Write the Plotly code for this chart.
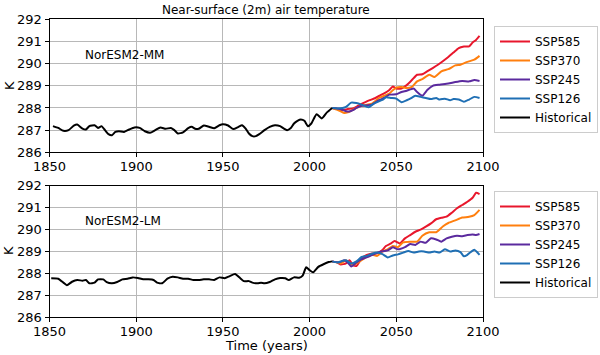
import plotly.graph_objects as go

# ---------------- data: NorESM2-MM (top) ----------------
hist_years_mm = [1852, 1855, 1858, 1861, 1864, 1866, 1869, 1871, 1873, 1876, 1878, 1880, 1882,
                 1884, 1886, 1888, 1890, 1893, 1896, 1899, 1902, 1905, 1908, 1911, 1914, 1917,
                 1920, 1922, 1924, 1927, 1930, 1932, 1934, 1936, 1939, 1942, 1945, 1948, 1950,
                 1953, 1956, 1959, 1961, 1963, 1965, 1967, 1969, 1971, 1974, 1977, 1980, 1983,
                 1985, 1987, 1989, 1991, 1993, 1995, 1997, 1999, 2001, 2004, 2007, 2010, 2013]
hist_mm = [287.18, 287.1, 286.97, 287.0, 287.2, 287.25, 287.07, 287.03, 287.18, 287.22, 287.1,
           287.18, 287.0, 286.82, 286.77, 286.92, 286.95, 286.92, 287.03, 287.12, 287.1, 286.95,
           286.88, 287.0, 287.12, 287.06, 287.1, 287.0, 286.85, 286.9, 287.09, 287.15, 287.06,
           287.06, 287.21, 287.15, 287.08, 287.22, 287.27, 287.21, 287.05, 287.15, 287.22,
           287.08, 286.85, 286.73, 286.73, 286.82, 287.0, 287.15, 287.22, 287.18, 287.08, 287.0,
           287.08, 287.3, 287.42, 287.48, 287.42, 287.18, 287.3, 287.72, 287.53, 287.8, 288.0]

ssp585_years_mm = [2013, 2016, 2019, 2022, 2025, 2028, 2030, 2033, 2035, 2038, 2040, 2043, 2046,
                   2048, 2050, 2053, 2056, 2059, 2062, 2065, 2068, 2071, 2074, 2077, 2080, 2083,
                   2086, 2089, 2092, 2094, 2096, 2098]
ssp585_mm = [288.0, 287.95, 287.9, 287.95, 287.98, 288.1, 288.18, 288.3, 288.36, 288.45, 288.54,
             288.66, 288.81, 288.97, 288.88, 288.88, 289.03, 289.26, 289.5, 289.52, 289.66,
             289.8, 289.95, 290.12, 290.3, 290.5, 290.7, 290.77, 290.78, 290.95, 291.07, 291.25]

ssp370_years_mm = [2013, 2016, 2018, 2020, 2022, 2024, 2027, 2030, 2033, 2036, 2040, 2043, 2046,
                   2048, 2050, 2053, 2056, 2059, 2062, 2065, 2069, 2072, 2076, 2080, 2084, 2087,
                   2091, 2095, 2098]
ssp370_mm = [288.0, 287.92, 287.85, 287.77, 287.8, 287.88, 288.0, 288.1, 288.15, 288.2, 288.45,
             288.55, 288.65, 288.8, 288.92, 288.95, 288.9, 288.95, 289.2, 289.3, 289.5, 289.4,
             289.65, 289.75, 289.92, 289.95, 290.08, 290.18, 290.35]

ssp245_years_mm = [2013, 2016, 2019, 2021, 2023, 2025, 2027, 2030, 2033, 2036, 2040, 2043, 2046,
                   2050, 2053, 2056, 2060, 2062, 2065, 2068, 2071, 2075, 2080, 2084, 2088, 2092,
                   2095, 2098]
ssp245_mm = [288.0, 287.98, 287.92, 287.85, 287.84, 287.9, 288.0, 288.1, 288.12, 288.15, 288.35,
             288.45, 288.6, 288.62, 288.72, 288.78, 288.88, 288.72, 288.55, 288.82, 289.0, 289.05,
             289.1, 289.17, 289.22, 289.2, 289.26, 289.22]

ssp126_years_mm = [2013, 2016, 2019, 2021, 2024, 2027, 2030, 2034, 2037, 2040, 2042, 2044, 2047,
                   2050, 2053, 2056, 2058, 2061, 2064, 2067, 2070, 2073, 2075, 2078, 2081, 2083,
                   2086, 2089, 2092, 2095, 2098]
ssp126_mm = [288.0, 287.98, 288.0, 288.05, 288.24, 288.22, 288.15, 288.03, 288.2, 288.3, 288.36,
             288.48, 288.45, 288.42, 288.26, 288.35, 288.42, 288.55, 288.5, 288.45, 288.4,
             288.45, 288.38, 288.42, 288.35, 288.4, 288.38, 288.28, 288.38, 288.5, 288.45]

# ---------------- data: NorESM2-LM (bottom) ----------------
hist_years_lm = [1851, 1855, 1858, 1860, 1863, 1866, 1869, 1871, 1873, 1876, 1878, 1881, 1883,
                 1886, 1889, 1892, 1895, 1898, 1901, 1904, 1907, 1910, 1912, 1915, 1918, 1921,
                 1924, 1927, 1930, 1933, 1936, 1939, 1942, 1945, 1948, 1951, 1954, 1957, 1960,
                 1962, 1965, 1967, 1970, 1972, 1974, 1977, 1980, 1983, 1986, 1988, 1991, 1994,
                 1996, 1998, 2000, 2002, 2005, 2008, 2011, 2013]
hist_lm = [287.78, 287.76, 287.58, 287.46, 287.62, 287.7, 287.67, 287.7, 287.55, 287.58, 287.73,
           287.73, 287.6, 287.55, 287.61, 287.73, 287.76, 287.82, 287.79, 287.74, 287.73, 287.7,
           287.58, 287.55, 287.76, 287.85, 287.82, 287.76, 287.76, 287.7, 287.7, 287.73, 287.73,
           287.7, 287.82, 287.78, 287.88, 287.97, 287.78, 287.65, 287.65, 287.58, 287.55,
           287.58, 287.55, 287.61, 287.73, 287.79, 287.78, 287.7, 287.82, 287.8, 287.9, 288.28,
           288.15, 288.05, 288.3, 288.42, 288.52, 288.55]

ssp585_years_lm = [2013, 2016, 2018, 2021, 2023, 2025, 2027, 2030, 2033, 2036, 2039, 2042, 2044,
                   2047, 2049, 2052, 2055, 2058, 2061, 2064, 2067, 2070, 2073, 2076, 2079, 2082,
                   2085, 2088, 2091, 2094, 2096, 2098]
ssp585_lm = [288.55, 288.5, 288.41, 288.46, 288.6, 288.38, 288.34, 288.69, 288.84, 288.91,
             288.92, 289.07, 289.25, 289.37, 289.48, 289.37, 289.6, 289.75, 289.9, 290.0, 290.13,
             290.28, 290.47, 290.54, 290.59, 290.77, 290.97, 291.12, 291.27, 291.45, 291.68,
             291.62]

ssp370_years_lm = [2013, 2016, 2018, 2021, 2024, 2027, 2030, 2033, 2036, 2039, 2042, 2045, 2048,
                   2051, 2054, 2058, 2062, 2065, 2069, 2073, 2077, 2080, 2084, 2088, 2092, 2095,
                   2098]
ssp370_lm = [288.55, 288.5, 288.45, 288.6, 288.4, 288.45, 288.6, 288.75, 288.85, 288.8, 289.0,
             289.1, 289.25, 289.2, 289.42, 289.45, 289.45, 289.72, 289.88, 289.88, 290.15,
             290.3, 290.42, 290.55, 290.58, 290.66, 290.9]

ssp245_years_lm = [2013, 2017, 2020, 2022, 2024, 2027, 2030, 2035, 2040, 2045, 2048, 2051, 2055,
                   2058, 2061, 2064, 2067, 2070, 2073, 2076, 2079, 2082, 2085, 2088, 2091, 2094,
                   2096, 2098]
ssp245_lm = [288.55, 288.5, 288.6, 288.5, 288.32, 288.5, 288.65, 288.8, 288.97, 289.05, 289.19,
             289.1, 289.2, 289.34, 289.3, 289.45, 289.4, 289.6, 289.55, 289.45, 289.6, 289.67,
             289.72, 289.7, 289.75, 289.78, 289.75, 289.8]

ssp126_years_lm = [2013, 2016, 2018, 2021, 2024, 2027, 2030, 2033, 2036, 2039, 2042, 2045, 2048,
                   2051, 2054, 2057, 2060, 2063, 2066, 2069, 2072, 2075, 2078, 2081, 2084, 2087,
                   2089, 2091, 2093, 2095, 2098]
ssp126_lm = [288.55, 288.5, 288.55, 288.6, 288.45, 288.55, 288.75, 288.8, 288.9, 288.95, 288.88,
             288.73, 288.82, 288.87, 288.95, 289.02, 288.95, 289.0, 289.0, 288.95, 289.0, 288.95,
             289.1, 289.0, 289.05, 288.97, 288.78, 288.85, 288.98, 289.08, 288.85]

scenario_names = ["SSP585", "SSP370", "SSP245", "SSP126", "Historical"]
scenario_colors = ["#e8172c", "#ff7f0e", "#5b2a9e", "#1f6fb4", "#000000"]

x_ticks = [1850, 1900, 1950, 2000, 2050, 2100]
y_ticks = [286, 287, 288, 289, 290, 291, 292]

panels = [
    ("NorESM2-MM",
     [(ssp585_years_mm, ssp585_mm), (ssp370_years_mm, ssp370_mm), (ssp245_years_mm, ssp245_mm),
      (ssp126_years_mm, ssp126_mm), (hist_years_mm, hist_mm)]),
    ("NorESM2-LM",
     [(ssp585_years_lm, ssp585_lm), (ssp370_years_lm, ssp370_lm), (ssp245_years_lm, ssp245_lm),
      (ssp126_years_lm, ssp126_lm), (hist_years_lm, hist_lm)]),
]

W, H = 600, 355
FONT = "DejaVu Sans"

fig = go.Figure()
for pi, (label, series) in enumerate(panels):
    xa = "x" if pi == 0 else "x2"
    ya = "y" if pi == 0 else "y2"
    lg = "legend" if pi == 0 else "legend2"
    for (xs, ys), name, col in zip(series, scenario_names, scenario_colors):
        fig.add_trace(go.Scatter(
            x=xs, y=ys, mode="lines", name=name, xaxis=xa, yaxis=ya, legend=lg,
            line=dict(color=col, width=2, shape="spline", smoothing=0.5),
            showlegend=True, hoverinfo="skip",
        ))

axis_common = dict(
    showline=True, linecolor="black", linewidth=1, mirror=True,
    ticks="outside", ticklen=4, tickcolor="black", tickwidth=1,
    showgrid=True, gridcolor="#b8b8b8", gridwidth=1, zeroline=False,
    automargin=False,
    tickfont=dict(family=FONT, size=13, color="black"),
)

x0, x1 = 49.5 / W, 483 / W
fig.update_layout(
    width=W, height=H,
    margin=dict(l=0, r=0, t=0, b=0, autoexpand=False),
    paper_bgcolor="white", plot_bgcolor="white",
    font=dict(family=FONT, color="black"),
    xaxis=dict(domain=[x0, x1], anchor="y", range=[1850, 2100], tickvals=x_ticks,
               ticklabelstandoff=-2, **axis_common),
    yaxis=dict(domain=[1 - 152.3 / H, 1 - 19.3 / H], anchor="x", range=[286, 292],
               tickvals=y_ticks, **axis_common),
    xaxis2=dict(domain=[x0, x1], anchor="y2", range=[1850, 2100], tickvals=x_ticks,
                ticklabelstandoff=-2, **axis_common),
    yaxis2=dict(domain=[1 - 317.3 / H, 1 - 185.7 / H], anchor="x2", range=[286, 292],
                tickvals=y_ticks, **axis_common),
    legend=dict(x=494 / W, y=1 - 26 / H, xanchor="left", yanchor="top",
                bordercolor="#cccccc", borderwidth=1, bgcolor="white",
                font=dict(family=FONT, size=12, color="black"), tracegroupgap=0),
    legend2=dict(x=494 / W, y=1 - 191 / H, xanchor="left", yanchor="top",
                 bordercolor="#cccccc", borderwidth=1, bgcolor="white",
                 font=dict(family=FONT, size=12, color="black"), tracegroupgap=0),
    annotations=[
        dict(text="Near-surface (2m) air temperature", x=266 / W, y=1 - 10 / H, xref="paper",
             yref="paper", xanchor="center", yanchor="middle", showarrow=False,
             font=dict(family=FONT, size=12)),
        dict(text="NorESM2-MM", x=83 / W, y=1 - 55 / H, xref="paper", yref="paper",
             xanchor="left", yanchor="middle", showarrow=False, font=dict(family=FONT, size=12)),
        dict(text="NorESM2-LM", x=83 / W, y=1 - 221 / H, xref="paper", yref="paper",
             xanchor="left", yanchor="middle", showarrow=False, font=dict(family=FONT, size=12)),
        dict(text="K", x=9 / W, y=1 - 86 / H, xref="paper", yref="paper", textangle=-90,
             xanchor="center", yanchor="middle", showarrow=False, font=dict(family=FONT, size=13)),
        dict(text="K", x=9 / W, y=1 - 251 / H, xref="paper", yref="paper", textangle=-90,
             xanchor="center", yanchor="middle", showarrow=False, font=dict(family=FONT, size=13)),
        dict(text="Time (years)", x=266 / W, y=1 - 345 / H, xref="paper", yref="paper",
             xanchor="center", yanchor="middle", showarrow=False, font=dict(family=FONT, size=13)),
    ],
)

fig.write_html("out.html", config={"displayModeBar": False},
               post_script="document.body.style.margin='0';document.body.style.overflow='hidden';")
